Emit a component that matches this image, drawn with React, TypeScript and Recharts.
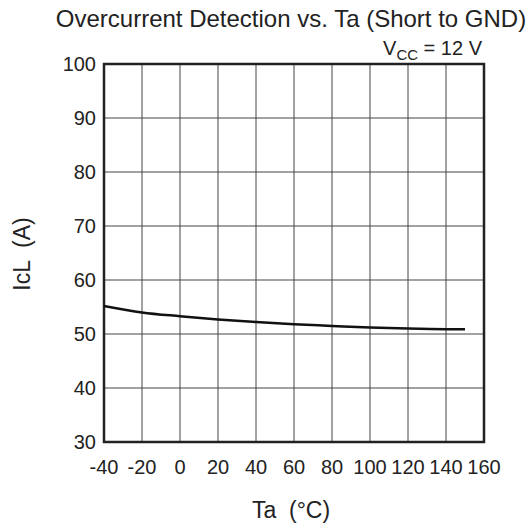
import React from 'react';
import {
  LineChart,
  Line,
  XAxis,
  YAxis,
  CartesianGrid,
  ReferenceArea
} from 'recharts';

const temps = [-40, -20, 0, 20, 40, 60, 80, 100, 120, 140, 150];
const current = [55.2, 54.0, 53.3, 52.7, 52.2, 51.8, 51.5, 51.2, 51.0, 50.9, 50.9];
const xTicks = [-40, -20, 0, 20, 40, 60, 80, 100, 120, 140, 160];
const yTicks = [30, 40, 50, 60, 70, 80, 90, 100];

const data = temps.map((t, i) => ({ ta: t, icl: current[i] }));

const font = '"Liberation Sans", Arial, sans-serif';

const App: React.FC = () => {
  return (
    <div style={{ position: 'absolute', left: 0, top: 0, width: 531, height: 528, background: '#fff', fontFamily: font, color: '#222' }}>
      <div style={{ position: 'absolute', left: 0, width: 582, top: 4, textAlign: 'center', fontSize: 24, lineHeight: '30px' }}>
        Overcurrent Detection vs. Ta (Short to GND)
      </div>
      <div style={{ position: 'absolute', right: 49, top: 36, fontSize: 20, lineHeight: '24px' }}>
        V<sub style={{ fontSize: 15, verticalAlign: -5 }}>CC</sub> = 12 V
      </div>
      <div style={{ position: 'absolute', left: 22, top: 254, transform: 'translate(-50%, -50%) rotate(-90deg)', fontSize: 23, whiteSpace: 'pre', lineHeight: '28px' }}>
        {'IcL  (A)'}
      </div>
      <div style={{ position: 'absolute', left: 291, top: 510, transform: 'translate(-50%, -50%)', fontSize: 23, whiteSpace: 'pre', lineHeight: '28px' }}>
        {'Ta  (°C)'}
      </div>
      <LineChart
        width={531}
        height={528}
        data={data}
        margin={{ top: 64, right: 47, bottom: 56, left: 0 }}
      >
        <CartesianGrid stroke="#444" strokeWidth={1} />
        <XAxis
          dataKey="ta"
          type="number"
          domain={[-40, 160]}
          ticks={xTicks}
          height={30}
          axisLine={false}
          tickLine={false}
          tickMargin={12}
          tick={{ fontSize: 20, fill: '#222', fontFamily: font }}
          interval={0}
        />
        <YAxis
          type="number"
          domain={[30, 100]}
          ticks={yTicks}
          width={104}
          axisLine={false}
          tickLine={false}
          tick={{ fontSize: 20, fill: '#222', fontFamily: font }}
          interval={0}
        />
        <ReferenceArea x1={-40} x2={160} y1={30} y2={100} fill="none" stroke="#222" strokeWidth={2.5} fillOpacity={0} />
        <Line
          dataKey="icl"
          type="monotone"
          stroke="#111"
          strokeWidth={2.5}
          dot={false}
          isAnimationActive={false}
        />
      </LineChart>
    </div>
  );
};

export default App;
